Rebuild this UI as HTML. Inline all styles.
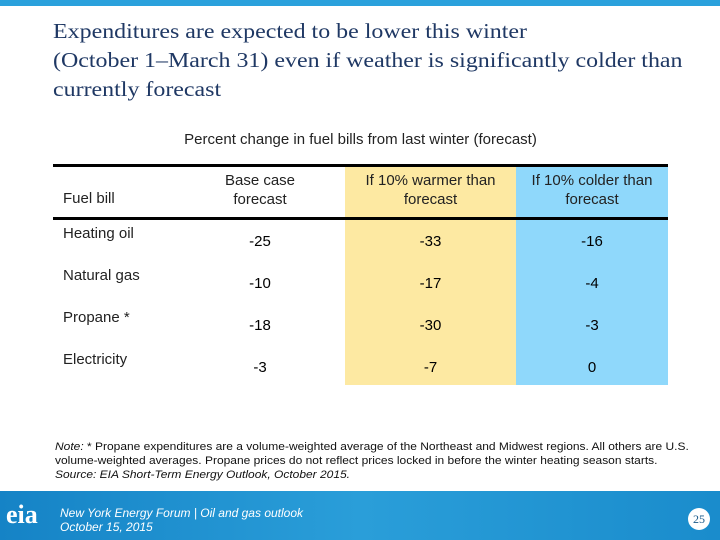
<!DOCTYPE html>
<html><head><meta charset="utf-8"><style>
body{margin:0;width:720px;height:540px;position:relative;overflow:hidden;background:#fff;font-family:"Liberation Sans",sans-serif}
.a{position:absolute}
.t{font-family:"Liberation Serif",serif;font-size:21px;color:#1f3864;line-height:29px;transform:scaleX(1.14);transform-origin:0 0;white-space:nowrap}
.c{text-align:center;font-size:15px;color:#222}
.v{font-size:15px;color:#000;text-align:center}
.l{font-size:15px;color:#222}
</style></head><body>
<div class="a" style="left:0;top:0;width:720px;height:6px;background:#2aa1dc"></div>
<div class="a t" style="left:53px;top:17px">Expenditures are expected to be lower this winter<br>(October 1–March 31) even if weather is significantly colder than<br>currently forecast</div>
<div class="a c" style="left:53px;top:131px;width:615px">Percent change in fuel bills from last winter (forecast)</div>
<div class="a" style="left:345px;top:166px;width:171px;height:219px;background:#fde9a2"></div>
<div class="a" style="left:516px;top:166px;width:152px;height:219px;background:#8fd8fb"></div>
<div class="a" style="left:53px;top:164px;width:615px;height:3px;background:#000"></div>
<div class="a" style="left:53px;top:217px;width:615px;height:3px;background:#000"></div>
<div class="a l" style="left:63px;top:190px">Fuel bill</div>
<div class="a c" style="left:175px;top:171px;width:170px;line-height:19px">Base case<br>forecast</div>
<div class="a c" style="left:345px;top:171px;width:171px;line-height:19px">If 10% warmer than<br>forecast</div>
<div class="a c" style="left:516px;top:171px;width:152px;line-height:19px">If 10% colder than<br>forecast</div>
<div id="rows"></div>
<div class="a" style="left:55px;top:440px;white-space:nowrap;transform:scaleX(1.09);transform-origin:0 0;font-size:11px;line-height:14px;color:#111"><i>Note:</i> * Propane expenditures are a volume-weighted average of the Northeast and Midwest regions. All others are U.S.<br>volume-weighted averages. Propane prices do not reflect prices locked in before the winter heating season starts.<br><i>Source: EIA Short-Term Energy Outlook, October 2015.</i></div>
<div class="a" style="left:0;top:491px;width:720px;height:49px;background:linear-gradient(90deg,#1583c6,#2a9ed9 50%,#1a8ccc)"></div>
<div class="a" style="left:6px;top:500px;color:#fff;font-family:'Liberation Serif',serif;font-size:26px;font-weight:bold">eia</div>
<div class="a" style="left:60px;top:506px;color:#fff;font-size:12px;line-height:14px;font-style:italic">New York Energy Forum | Oil and gas outlook<br>October 15, 2015</div>
<div class="a" style="left:688px;top:508px;width:22px;height:22px;border-radius:50%;background:#fff;color:#1a5a8a;font-size:12px;text-align:center;line-height:22px;font-family:'Liberation Serif',serif">25</div>
<script>
const fuels=["Heating oil","Natural gas","Propane *","Electricity"];
const baseCase=[-25,-10,-18,-3];
const warmer=[-33,-17,-30,-7];
const colder=[-16,-4,-3,0];
const host=document.getElementById('rows');
fuels.forEach((f,i)=>{
  const y=225+i*42;
  const lab=document.createElement('div');
  lab.className='a l';lab.style.left='63px';lab.style.top=y+'px';lab.textContent=f;
  
  
  host.appendChild(lab);
  [[baseCase,175,170],[warmer,345,171],[colder,516,152]].forEach(([arr,x,w])=>{
    const d=document.createElement('div');
    d.className='a v';d.style.left=x+'px';d.style.width=w+'px';d.style.top=(y+8)+'px';d.textContent=arr[i];
    
    
    host.appendChild(d);
  });
});
</script>
</body></html>
